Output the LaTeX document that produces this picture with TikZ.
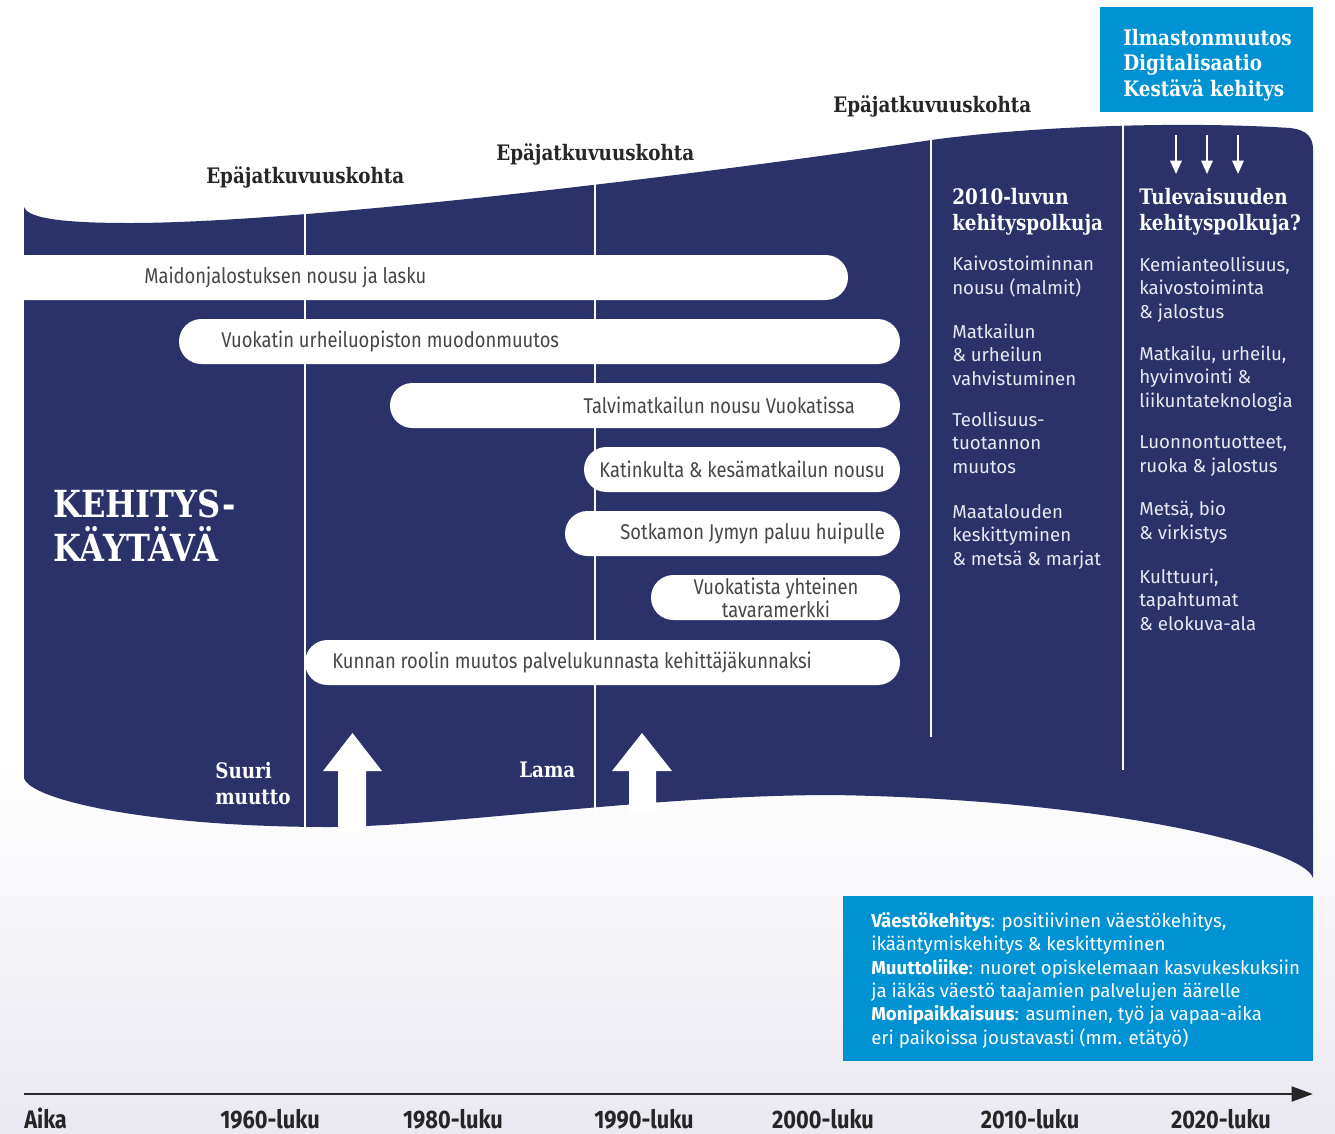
\documentclass[tikz,border=0pt]{standalone}
\usepackage{fontspec}
\setmainfont{Fira Sans}
\newfontfamily\slabfont{DejaVu Serif}[FakeStretch=0.86]
\newfontfamily\narrowfont{Fira Sans}[FakeStretch=0.86]
\usetikzlibrary{arrows.meta,positioning}
\definecolor{corridor}{RGB}{43,50,106}
\definecolor{infoblue}{RGB}{0,146,210}
\definecolor{pilltext}{RGB}{70,70,70}
\definecolor{fadebottom}{RGB}{234,232,241}
\definecolor{pathtext}{RGB}{232,232,240}
\tikzset{
  pill/.style={fill=white, rounded corners=16.8pt},
  pilllabel/.style={font=\narrowfont\fontsize{16}{14.3}\selectfont, text=pilltext, inner sep=0pt},
  slabhead/.style={font=\slabfont\bfseries\fontsize{16}{19.5}\selectfont, text=white, inner sep=0pt, align=left, anchor=base west},
  pathitem/.style={font=\fontsize{14}{17.6}\selectfont, text=pathtext, inner sep=0pt, align=left, anchor=base west},
  decade/.style={font=\narrowfont\bfseries\fontsize{19}{20}\selectfont, text=black!85, inner sep=0pt, anchor=base},
  divider/.style={white, line width=1.5pt},
}
\begin{document}
\begin{tikzpicture}[x=0.75pt,y=-0.75pt]
\useasboundingbox (0,0) rectangle (1335,1133);
% background fade
\shade[top color=white, bottom color=fadebottom] (0,760) rectangle (1335,1133);
% corridor
\fill[corridor] (24,207) .. controls (28,218) and (60,223) .. (130,223)
  .. controls (300,223) and (700,175) .. (931,140)
  .. controls (1050,124) and (1200,122) .. (1290,128)
  .. controls (1308,130) and (1313,138) .. (1313,150)
  -- (1313,878)
  .. controls (1305,850) and (1120,800) .. (834,795)
  .. controls (650,795) and (450,826) .. (330,827)
  .. controls (150,827) and (30,800) .. (24,778) -- cycle;
\draw[divider] (305,210) -- (305,830);
\draw[divider] (595,178) -- (595,815);
\draw[divider] (931,135) -- (931,737);
\draw[divider] (1123,120) -- (1123,770);
% big arrows
\fill[white] (338,832) -- (338,771) -- (323,771) -- (352.5,733) -- (382,771) -- (366,771) -- (366,832) -- cycle;
\fill[white] (629,814) -- (629,771) -- (612,771) -- (642,733) -- (672,771) -- (656,771) -- (656,814) -- cycle;
% pills
\fill[pill] (0,255) rectangle (848,300);
\fill[pill] (179,319) rectangle (900,364);
\fill[pill] (390,383) rectangle (900,428);
\fill[pill] (584,447) rectangle (900,492);
\fill[pill] (565,511) rectangle (900,556);
\fill[pill] (651,575) rectangle (900,620);
\fill[pill] (305,640) rectangle (900,685);
\node[pilllabel, anchor=west] (milk) at (144,277.5) {Maidonjalostuksen nousu ja lasku};
\node[pilllabel, anchor=west] (sportsinst) at (221,341.5) {Vuokatin urheiluopiston muodonmuutos};
\node[pilllabel, anchor=east] (wintertour) at (855,405.5) {Talvimatkailun nousu Vuokatissa};
\node[pilllabel, anchor=east] (katinkulta) at (885,469.5) {Katinkulta \& kesämatkailun nousu};
\node[pilllabel, anchor=east] (jymy) at (885,533.5) {Sotkamon Jymyn paluu huipulle};
\node[pilllabel, align=center] (brand) at (776,598) {Vuokatista yhteinen\\tavaramerkki};
\node[pilllabel, anchor=west] (municipality) at (332,662.5) {Kunnan roolin muutos palvelukunnasta kehittäjäkunnaksi};
% headings
\node[slabhead, text=black!85] (break1) at (206,183) {Epäjatkuvuuskohta};
\node[slabhead, text=black!85] (break2) at (496,160) {Epäjatkuvuuskohta};
\node[slabhead, text=black!85] (break3) at (833,112) {Epäjatkuvuuskohta};
\node[slabhead, font=\slabfont\bfseries\fontsize{28}{33}\selectfont] (corridortitle) at (53,561) {KEHITYS-\\KÄYTÄVÄ};
\node[slabhead] (bigmove) at (215,804) {Suuri\\muutto};
\node[slabhead] (recession) at (519,777) {Lama};
\node[slabhead] (nowhead) at (952,230) {2010-luvun\\kehityspolkuja};
\node[slabhead] (futhead) at (1139,230) {Tulevaisuuden\\kehityspolkuja?};
% trends box
\fill[infoblue] (1100,7) rectangle (1313,112);
\node[slabhead, font=\slabfont\bfseries\fontsize{16}{19.1}\selectfont] (trends) at (1123,96) {Ilmastonmuutos\\Digitalisaatio\\Kestävä kehitys};
\draw[white, line width=1.5pt, -{Triangle[length=10pt,width=8.5pt]}] (1176,135) -- (1176,174);
\draw[white, line width=1.5pt, -{Triangle[length=10pt,width=8.5pt]}] (1207,135) -- (1207,174);
\draw[white, line width=1.5pt, -{Triangle[length=10pt,width=8.5pt]}] (1238,135) -- (1238,174);
% 2010s paths
\node[pathitem] (now1) at (952,294) {Kaivostoiminnan\\nousu (malmit)};
\node[pathitem] (now2) at (952,385) {Matkailun\\\& urheilun\\vahvistuminen};
\node[pathitem] (now3) at (952,473) {Teollisuus-\\tuotannon\\muutos};
\node[pathitem] (now4) at (952,565) {Maatalouden\\keskittyminen\\\& metsä \& marjat};
% future paths
\node[pathitem] (fut1) at (1139,318) {Kemianteollisuus,\\kaivostoiminta\\\& jalostus};
\node[pathitem] (fut2) at (1139,407) {Matkailu, urheilu,\\hyvinvointi \&\\liikuntateknologia};
\node[pathitem] (fut3) at (1139,472) {Luonnontuotteet,\\ruoka \& jalostus};
\node[pathitem] (fut4) at (1139,539) {Metsä, bio\\\& virkistys};
\node[pathitem] (fut5) at (1139,630) {Kulttuuri,\\tapahtumat\\\& elokuva-ala};
% population box
\fill[infoblue] (843,896) rectangle (1313,1061);
\node[pathitem, text=white, font=\fontsize{14}{17.5}\selectfont] (population) at (871,1044)
  {{\bfseries Väestökehitys}: positiivinen väestökehitys,\\
   ikääntymiskehitys \& keskittyminen\\
   {\bfseries Muuttoliike}: nuoret opiskelemaan kasvukeskuksiin\\
   ja iäkäs väestö taajamien palvelujen äärelle\\
   {\bfseries Monipaikkaisuus}: asuminen, työ ja vapaa-aika\\
   eri paikoissa joustavasti (mm. etätyö)};
% time axis
\draw[black!85, line width=2.2pt, -{Triangle[length=16pt,width=11pt]}] (24,1094) -- (1313,1094);
\node[decade, anchor=base west] (time) at (24,1128) {Aika};
\node[decade] (d1960) at (270,1128) {1960-luku};
\node[decade] (d1980) at (453,1128) {1980-luku};
\node[decade] (d1990) at (644,1128) {1990-luku};
\node[decade] (d2000) at (823,1128) {2000-luku};
\node[decade] (d2010) at (1030,1128) {2010-luku};
\node[decade] (d2020) at (1221,1128) {2020-luku};
\end{tikzpicture}
\end{document}
